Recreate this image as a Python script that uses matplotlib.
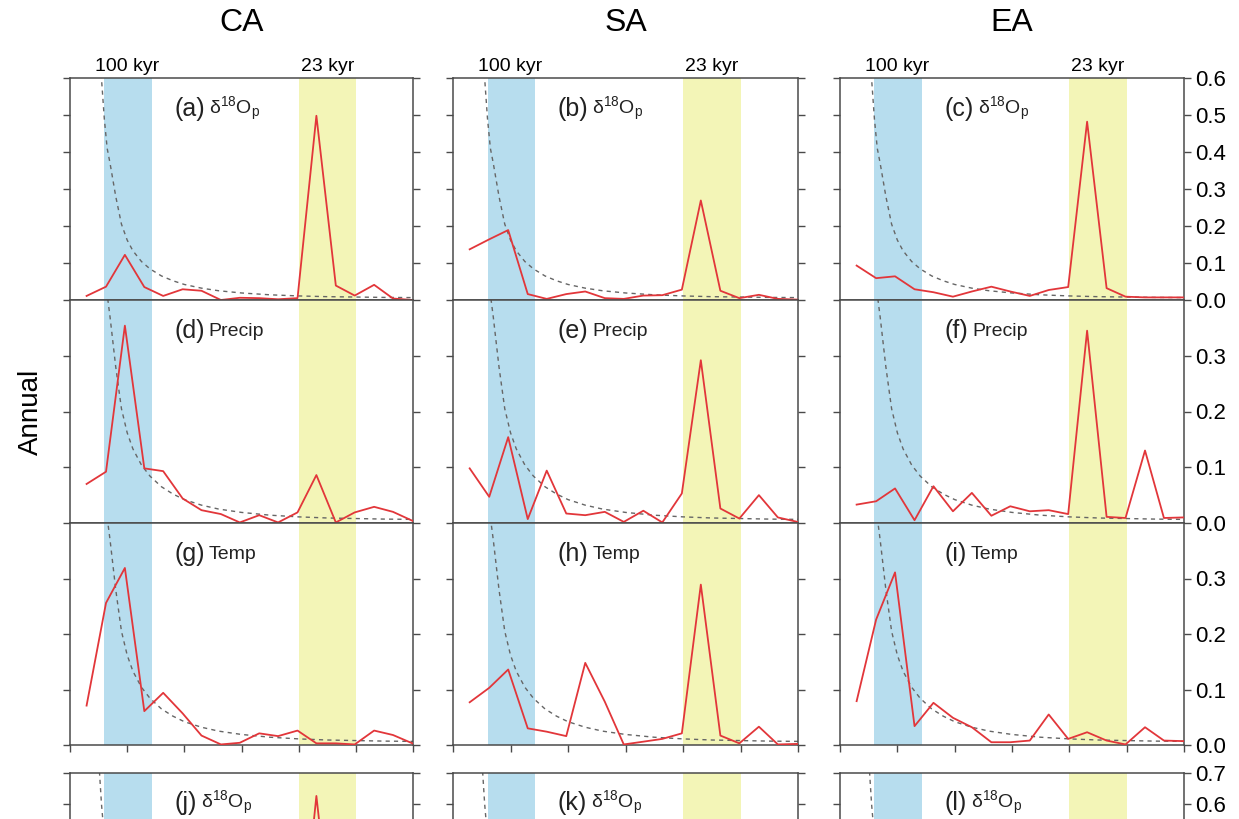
import numpy as np
import matplotlib.pyplot as plt

plt.rcParams['font.family'] = ['Liberation Sans Narrow', 'Liberation Sans', 'DejaVu Sans']
plt.rcParams['mathtext.default'] = 'regular'

# frequency grid of the spectra (1/kyr)
freq = [0.0029, 0.0063, 0.0096, 0.0130, 0.0163, 0.0197, 0.0230, 0.0264, 0.0297,
        0.0331, 0.0364, 0.0398, 0.0431, 0.0465, 0.0498, 0.0532, 0.0565, 0.0599]

# red-noise background (dashed)
bg_freq = [0.0045, 0.0050, 0.0055, 0.0060, 0.0065, 0.0070, 0.0080, 0.0090, 0.0100,
           0.0110, 0.0125, 0.0140, 0.0160, 0.0180, 0.0200, 0.0230, 0.0260, 0.0300,
           0.0350, 0.0400, 0.0450, 0.0500, 0.0550, 0.0600]
bg_power = [0.95, 0.75, 0.60, 0.49, 0.41, 0.37, 0.28, 0.205, 0.162,
            0.133, 0.104, 0.084, 0.065, 0.052, 0.042, 0.032, 0.025, 0.019,
            0.014, 0.011, 0.009, 0.008, 0.007, 0.0065]

# annual spectra, CA / SA / EA
ca_d18o = [0.011, 0.036, 0.122, 0.035, 0.011, 0.029, 0.025, 0.000, 0.006,
           0.005, 0.002, 0.005, 0.498, 0.039, 0.012, 0.041, 0.004, 0.000]
sa_d18o = [0.137, 0.164, 0.189, 0.016, 0.003, 0.016, 0.023, 0.005, 0.003,
           0.012, 0.013, 0.028, 0.269, 0.025, 0.005, 0.014, 0.003, 0.001]
ea_d18o = [0.093, 0.059, 0.064, 0.029, 0.021, 0.009, 0.023, 0.036, 0.023,
           0.011, 0.027, 0.035, 0.482, 0.032, 0.009, 0.007, 0.007, 0.007]

ca_precip = [0.070, 0.092, 0.354, 0.098, 0.093, 0.044, 0.023, 0.016, 0.001,
             0.014, 0.001, 0.019, 0.086, 0.001, 0.019, 0.029, 0.020, 0.004]
sa_precip = [0.098, 0.047, 0.154, 0.007, 0.094, 0.017, 0.014, 0.020, 0.002,
             0.022, 0.001, 0.053, 0.292, 0.026, 0.008, 0.050, 0.010, 0.002]
ea_precip = [0.033, 0.039, 0.062, 0.005, 0.066, 0.021, 0.054, 0.013, 0.030,
             0.021, 0.023, 0.016, 0.345, 0.011, 0.009, 0.130, 0.009, 0.010]

ca_temp = [0.071, 0.256, 0.319, 0.061, 0.094, 0.057, 0.017, 0.001, 0.004,
           0.021, 0.016, 0.026, 0.003, 0.003, 0.001, 0.026, 0.018, 0.003]
sa_temp = [0.077, 0.103, 0.136, 0.030, 0.024, 0.016, 0.148, 0.078, 0.001,
           0.006, 0.011, 0.021, 0.289, 0.017, 0.003, 0.033, 0.001, 0.002]
ea_temp = [0.079, 0.226, 0.311, 0.034, 0.076, 0.049, 0.032, 0.005, 0.005,
           0.008, 0.055, 0.011, 0.023, 0.008, 0.001, 0.032, 0.008, 0.007]

# next row (mostly cut off in the source)
ca_d18o_2 = [0.02, 0.05, 0.15, 0.04, 0.02, 0.03, 0.02, 0.01, 0.01,
             0.01, 0.01, 0.02, 0.625, 0.05, 0.02, 0.04, 0.01, 0.00]
sa_d18o_2 = [0.12, 0.15, 0.17, 0.02, 0.01, 0.02, 0.02, 0.01, 0.01,
             0.01, 0.01, 0.03, 0.30, 0.03, 0.01, 0.02, 0.01, 0.00]
ea_d18o_2 = [0.08, 0.06, 0.06, 0.03, 0.02, 0.01, 0.02, 0.03, 0.02,
             0.01, 0.02, 0.03, 0.45, 0.03, 0.01, 0.01, 0.01, 0.01]

regions = ['CA', 'SA', 'EA']
row_series = [[ca_d18o, sa_d18o, ea_d18o],
              [ca_precip, sa_precip, ea_precip],
              [ca_temp, sa_temp, ea_temp],
              [ca_d18o_2, sa_d18o_2, ea_d18o_2]]
row_names = [r'$\delta^{18}O_p$', 'Precip', 'Temp', r'$\delta^{18}O_p$']
letters = 'abcdefghijkl'

# layout in pixels of the source picture
W, H = 1239, 819
cols_px = [(70, 413), (453, 798), (840, 1184)]
rows_px = [(78, 300, 0.6), (300, 523, 0.4), (523, 745, 0.4), (773, 987, 0.7)]
# only the ticks that fall inside the (cropped) picture
row_ticks = [[0, 0.1, 0.2, 0.3, 0.4, 0.5, 0.6], [0, 0.1, 0.2, 0.3],
             [0, 0.1, 0.2, 0.3], [0.6, 0.7]]

red = '#e2363a'
blue_band = '#b7ddee'
yellow_band = '#f3f5b7'
spine_col = '#4a4a4a'

fig = plt.figure(figsize=(W / 100, H / 100), dpi=100)

for r, (y0, y1, ytop) in enumerate(rows_px):
    for c, (x0, x1) in enumerate(cols_px):
        ax = fig.add_axes([x0 / W, 1 - y1 / H, (x1 - x0) / W, (y1 - y0) / H])
        ax.axvspan(0.006, 0.0143, color=blue_band, lw=0, zorder=0)
        ax.axvspan(0.040, 0.050, color=yellow_band, lw=0, zorder=0)
        ax.plot(bg_freq, bg_power, color='#666666', lw=1.0, ls=(0, (3, 3)), zorder=2)
        ax.plot(freq, row_series[r][c], color=red, lw=1.3, zorder=3)
        ax.set_xlim(0, 0.06)
        ax.set_ylim(0, ytop)
        ax.set_xticks(np.arange(0, 0.061, 0.01))
        ax.set_yticks(row_ticks[r])
        ax.yaxis.set_major_formatter(plt.FormatStrFormatter('%.1f'))
        for s in ax.spines.values():
            s.set_color(spine_col)
            s.set_linewidth(1.1)
        ax.tick_params(direction='out', length=5, width=1.0, color=spine_col,
                       left=True, right=True, top=False, bottom=(r == 2),
                       labelleft=False, labelbottom=False,
                       labelright=(c == 2), labelsize=16, pad=3)

        k = r * 3 + c
        t = ax.text(0.0182, 0.86 * ytop, '(%s)' % letters[k], fontsize=18,
                    va='center', ha='left', color='#222222')
        ax.annotate(row_names[r], xy=(1, 0.5), xycoords=t, xytext=(3, 0),
                    textcoords='offset points', va='center', ha='left',
                    fontsize=14, color='#222222')

        if r == 0:
            for f, lab in [(0.01, '100 kyr'), (0.045, '23 kyr')]:
                ax.annotate(lab, xy=(f, 1), xycoords=('data', 'axes fraction'),
                            xytext=(0, 2), textcoords='offset points',
                            ha='center', va='bottom', fontsize=14)

for c, (x0, x1) in enumerate(cols_px):
    fig.text((x0 + x1) / 2 / W, 1 - 23 / H, regions[c], fontsize=23,
             ha='center', va='center')

fig.text(31 / W, 1 - 412 / H, 'Annual', rotation=90, fontsize=20,
         ha='center', va='center')

fig.savefig('out.png', dpi=100)
